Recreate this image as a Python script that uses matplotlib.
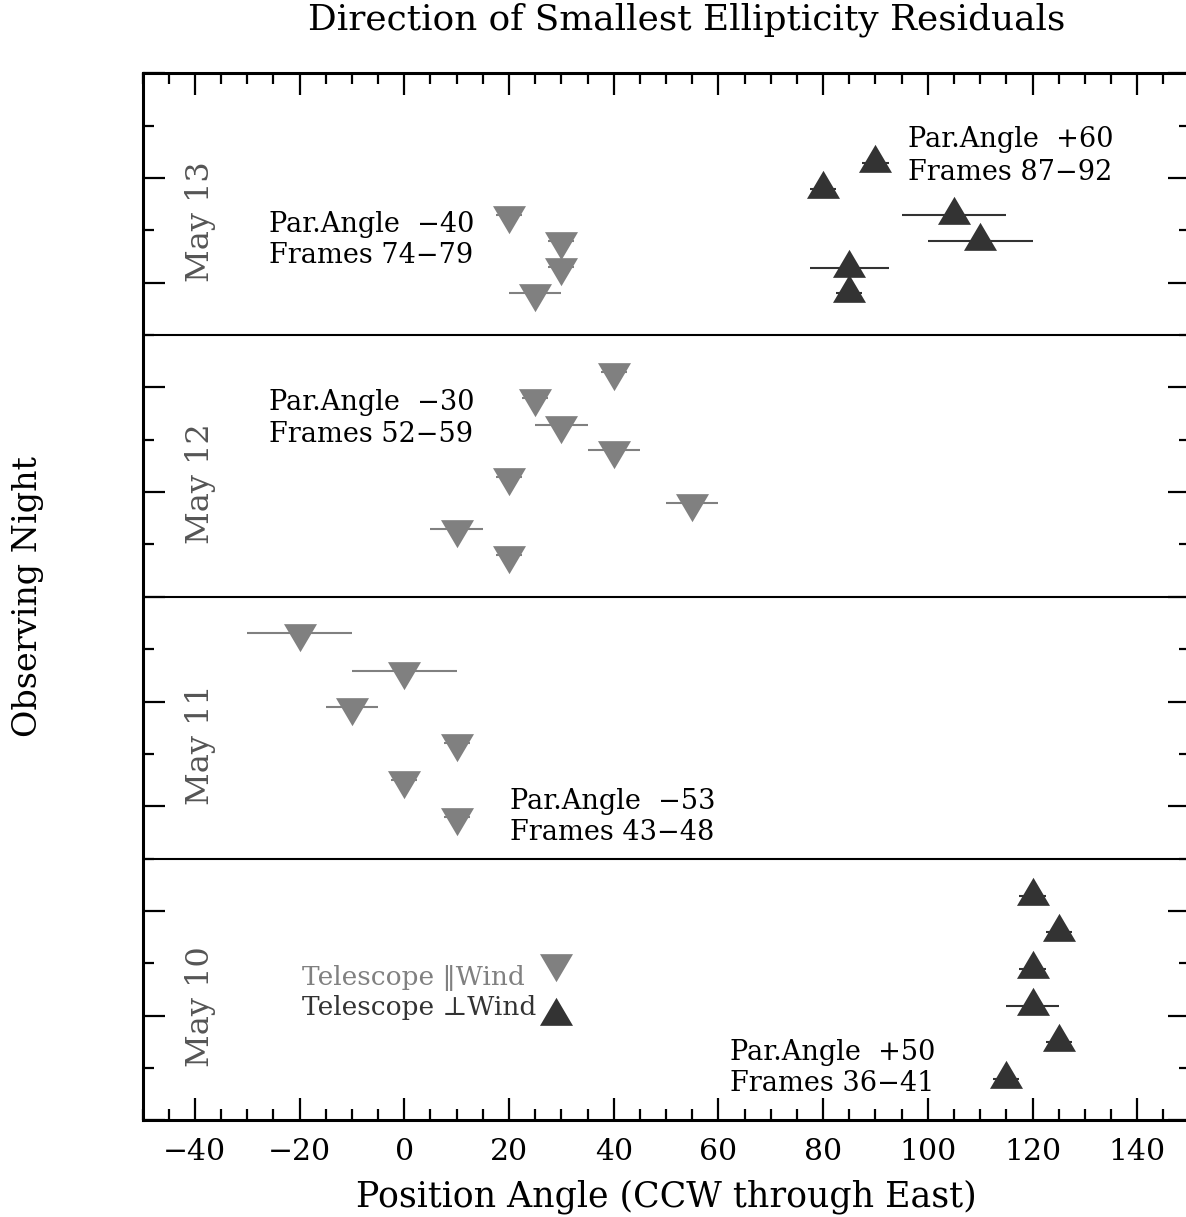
import numpy as np
import matplotlib
matplotlib.use("Agg")
import matplotlib.pyplot as plt
from matplotlib.ticker import MultipleLocator, NullFormatter

plt.rcParams['font.family'] = ['DejaVu Serif', 'DejaVu Sans']

# telescope parallel to wind (grey, down triangles)
par_x = [20, 30, 30, 25,                      # May 13
         40, 25, 30, 40, 20, 55, 10, 20,      # May 12
         -20, 0, -10, 10, 0, 10]              # May 11
par_y = [17.30, 16.80, 16.30, 15.80,
         14.29, 13.79, 13.29, 12.80, 12.29, 11.80, 11.29, 10.80,
         9.30, 8.59, 7.90, 7.20, 6.50, 5.80]
par_err = [2.5, 2.5, 2.5, 5,
           2.5, 2.5, 5, 5, 2.5, 5, 5, 2.5,
           10, 10, 5, 2.5, 2.5, 2.5]

# telescope perpendicular to wind (dark, up triangles)
perp_x = [90, 80, 105, 110, 85, 85,           # May 13
          120, 125, 120, 120, 125, 115]       # May 10
perp_y = [18.29, 17.79, 17.30, 16.79, 16.29, 15.80,
          4.29, 3.59, 2.89, 2.19, 1.49, 0.79]
perp_err = [2.5, 2.5, 10, 10, 7.5, 2.5,
            2.5, 2.5, 2.5, 5, 2.5, 2.5]

nights = ["May 13", "May 12", "May 11", "May 10"]
night_mid = [17.5, 12.5, 7.5, 2.5]
panel_edges = [5, 10, 15]

notes = [("Par.Angle  \u221240", "Frames 74\u221279"),
         ("Par.Angle  +60", "Frames 87\u221292"),
         ("Par.Angle  \u221230", "Frames 52\u221259"),
         ("Par.Angle  \u221253", "Frames 43\u221248"),
         ("Par.Angle  +50", "Frames 36\u221241")]

dark = '#333333'
grey = '#808080'

# triangles with the data point at the centroid
up_tri = [(0, 18.67), (-16.5, -9.33), (16.5, -9.33), (0, 18.67)]
down_tri = [(0, -18.67), (-16.5, 9.33), (16.5, 9.33), (0, -18.67)]
msize = 26.9

fig = plt.figure(figsize=(11.86, 12.17), dpi=100)
ax = fig.add_axes([142.5 / 1186, 96.7 / 1217, 1047.1 / 1186, 1047.0 / 1217])

ax.errorbar(par_x, par_y, xerr=par_err, fmt='none', ecolor=grey, elinewidth=1.5, capsize=0, zorder=2)
ax.errorbar(perp_x, perp_y, xerr=perp_err, fmt='none', ecolor=dark, elinewidth=1.5, capsize=0, zorder=2)
ax.plot(par_x, par_y, linestyle='none', marker=down_tri, markersize=msize,
        color=grey, markeredgewidth=0, zorder=3)
ax.plot(perp_x, perp_y, linestyle='none', marker=up_tri, markersize=msize,
        color=dark, markeredgewidth=0, zorder=3)

# legend made by hand
ax.plot([29], [3.0], linestyle='none', marker=down_tri, markersize=msize, color=grey, markeredgewidth=0)
ax.plot([29], [2.0], linestyle='none', marker=up_tri, markersize=msize, color=dark, markeredgewidth=0)
ax.text(-19.6, 2.58, "Telescope \u2016Wind", color=grey, fontsize=19, va='baseline')
ax.text(-19.6, 2.01, "Telescope \u22a5Wind", color=dark, fontsize=19, va='baseline')

for yy in panel_edges:
    ax.axhline(yy, color='black', linewidth=1.5, zorder=1)

for name, ym in zip(nights, night_mid):
    ax.text(-39, ym - 0.33, name, rotation=90, color='#555555', fontsize=23,
            ha='center', va='center')

note_pos = [(-25.8, 16.97, 16.38), (96.3, 18.59, 17.97), (-25.8, 13.56, 12.95),
            (20.2, 5.94, 5.35), (62.2, 1.15, 0.56)]
for (l1, l2), (nx, y1, y2) in zip(notes, note_pos):
    ax.text(nx, y1, l1, fontsize=19.5, va='baseline', color='black')
    ax.text(nx, y2, l2, fontsize=19.5, va='baseline', color='black')

ax.set_xlim(-50, 150)
ax.set_ylim(0, 20)
ax.xaxis.set_major_locator(MultipleLocator(20))
ax.xaxis.set_minor_locator(MultipleLocator(5))
ax.yaxis.set_major_locator(MultipleLocator(2))
ax.yaxis.set_minor_locator(MultipleLocator(1))
ax.yaxis.set_major_formatter(NullFormatter())
ax.tick_params(which='both', direction='in', top=True, right=True, width=1.6, color='black')
ax.tick_params(which='major', length=15.6)
ax.tick_params(which='minor', length=7.7)
ax.tick_params(axis='x', which='major', labelsize=21.5, pad=13)
for sp in ax.spines.values():
    sp.set_linewidth(2.2)

ax.set_xlabel("Position Angle (CCW through East)", fontsize=25)
ax.xaxis.set_label_coords(0.5, -0.056)
ax.set_ylabel("Observing Night", fontsize=24)
ax.yaxis.set_label_coords(-0.094, 0.5)

fig.text(687 / 1186, 1 - 29.3 / 1217, "Direction of Smallest Ellipticity Residuals",
         fontsize=25.8, ha='center', va='baseline')

fig.savefig('out.png', dpi=100)
